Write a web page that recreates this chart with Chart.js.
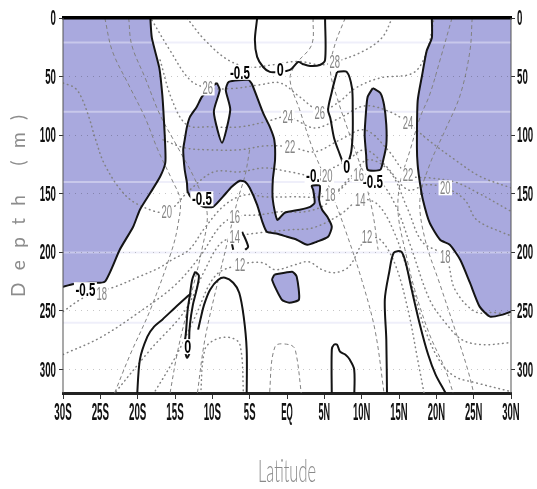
<!DOCTYPE html>
<html>
<head>
<meta charset="utf-8">
<title>Depth–latitude section</title>
<script src="https://cdn.jsdelivr.net/npm/chart.js@4.4.1/dist/chart.umd.min.js"></script>
<style>
  html, body { margin: 0; padding: 0; background: #fff; }
  canvas { display: block; }
</style>
</head>
<body>
<canvas id="section" width="537" height="489" style="width:537px;height:489px"></canvas>
<script>
// ---- axes -------------------------------------------------------------
const latTicks = [-30, -25, -20, -15, -10, -5, 0, 5, 10, 15, 20, 25, 30];
const latTickLabels = ['30S', '25S', '20S', '15S', '10S', '5S', 'EQ', '5N', '10N', '15N', '20N', '25N', '30N'];
const depthTicks = [0, 50, 100, 150, 200, 250, 300];
const bandDepths = [21, 80, 140, 200, 260];

// ---- anomaly below -0.5 (shaded), points are [latitude, depth] ---------
const shadeSouth = [[-18.3,-5],[-18.3,0],[-18.1,17],[-17.1,42.6],[-16.7,65.6],[-16.5,85.2],[-16.3,110.8],[-16.3,123.6],[-17.0,135.5],[-18.3,149.2],[-19.7,163.6],[-20.6,178.1],[-22.4,197.7],[-24.4,225],[-26.4,225.9],[-28.4,226.7],[-30,229.3],[-31,230],[-31,-5]];
const shadeNorth = [[19.4,-5],[19.4,0],[19.4,17],[18.7,28.1],[18.1,48.6],[17.5,70.7],[17.4,110.8],[17.5,125.3],[17.8,140.6],[18.2,155.1],[19.1,174.7],[20.5,189.2],[21.8,193.5],[23.2,206.3],[24.5,225.9],[25.8,246.3],[27.2,254.8],[28.9,253.1],[30,250.6],[31,250],[31,-5]];
const shadeWest = [[-9.4,55.4],[-9.0,61.4],[-9.8,80.1],[-8.7,106.5],[-7.6,78.4],[-8.2,61.4],[-7.8,54.5],[-5.2,52.8],[-4.7,56.3],[-3.2,81.0],[-2.3,92.9],[-1.7,104.0],[-1.6,121.0],[-1.9,138.1],[-1.9,155.1],[-1.3,172.2],[-0.3,166.2],[1.7,163.6],[3.1,161.1],[3.7,157.7],[3.5,146.6],[3.3,143.2],[4.4,143.2],[4.3,155.1],[4.7,163.6],[5.4,169.6],[6.0,178.1],[5.5,186.7],[4.0,190.9],[2.7,193.5],[1.3,189.2],[0,186.7],[-1.3,184.1],[-2.7,182.4],[-3.3,173.9],[-4.0,159.4],[-5.0,144.9],[-5.6,139.8],[-6.3,138.9],[-7.4,144.0],[-8.6,152.6],[-9.9,161.1],[-11.2,161.1],[-12.6,155.1],[-13.3,148.3],[-13.4,140.6],[-13.7,129.5],[-13.9,112.5],[-13.7,104.0],[-13.4,92.9],[-13.0,84.4],[-12.1,75.9],[-11.4,67.3],[-10.3,59.7]];
const shadeEq = [[-1.7,219.0],[0.7,216.5],[1.3,220.7],[1.6,240.3],[0.3,242.9],[-0.7,240.3],[-2.0,223.3]];
const shade10N = [[11.5,59.7],[12.5,64.0],[13.0,74.2],[13.3,91.2],[13.3,108.2],[12.9,121.0],[12.5,129.5],[10.8,129.5],[10.6,116.8],[10.4,99.7],[10.6,78.4],[10.8,67.3]];

// ---- zero contour ------------------------------------------------------
const zeroTop = [[-4.0,-5],[-4.0,0],[-4.3,18.8],[-4.0,33.2],[-3.2,41.8],[-2.3,46.0],[-1.2,46.0],[0.4,44.3],[1.5,37.5],[2.1,39.2],[3.1,40.9],[4.4,40.1],[5.1,35.8],[5.1,0],[5.1,-5]];
const zeroLoop7N = [[6.7,46.0],[8.0,46.0],[8.7,59.7],[8.8,78.4],[8.8,98.0],[8.6,114.2],[8.2,123.6],[8.0,131.3],[7.6,125.3],[7.1,116.8],[6.3,102.3],[5.8,85.2],[5.5,78.4],[6.0,63.1],[6.4,52.8]];
const zeroLoop13S = [[-12.3,216.5],[-11.8,219.9],[-12.1,231.8],[-12.6,244.6],[-13.0,261.7],[-13.1,274.4],[-13.0,284.7],[-13.4,289.8],[-13.7,281.3],[-13.5,265.9],[-13.3,248.9],[-13.0,236.1],[-12.7,223.3]];
const zeroSouthLeg = [[-20.1,325],[-19.7,291.5],[-18.7,271.9],[-17.8,263.4],[-16.7,257.4],[-15.0,247.2],[-13.8,240.3],[-13.1,236.1]];
const zeroArch = [[-5.4,325],[-5.4,283.0],[-5.8,254.8],[-6.4,234.4],[-7.2,225.9],[-8.3,221.6],[-9.2,223.3],[-10.3,231.8],[-11.1,244.6],[-11.6,257.4],[-11.9,265.9]];
const zero5N = [[6.0,325],[6.0,283.0],[6.3,278.7],[6.7,278.7],[7.1,284.7],[7.8,287.2],[8.4,291.5],[9.0,300.0],[9.0,325]];
const zero15N = [[13.4,325],[13.3,274.4],[13.1,240.3],[13.7,216.5],[14.3,200.3],[15.3,199.4],[15.9,208.8],[16.7,231.8],[17.8,261.7],[18.9,287.2],[19.9,304.3],[21.2,319.6],[21.6,325]];
const zeroBitA = [[-6.0,182.4],[-5.2,195.2],[-5.6,197.7]];
const zeroBitB = [[-7.4,191.8],[-7.2,197.7]];

// ---- isotherms (deg C) -------------------------------------------------
const t28 = [[-13.4,0],[-11.0,18.8],[-7.9,35.8],[-5.0,42],[-2.0,40],[1.5,37],[4.5,40],[6.4,37.5],[10.0,29.0],[12.7,17.0],[14.1,0]];
const t26 = [[-18.1,1.7],[-15.7,27.3],[-13.0,52.8],[-10.6,59.7],[-7.0,60],[-3.6,57],[-0.9,55.4],[1.7,67.3],[4.4,79],[6.8,72.4],[9.2,59.7],[12.5,51.1],[16.9,46.9],[18.7,29.0],[19.7,0]];
const t24 = [[-17.0,35.8],[-15.4,69.9],[-13.4,91.2],[-10.3,92.9],[-6.3,92.9],[-2.9,88.6],[0.1,84.4],[3.7,93.8],[7.1,85.2],[10.4,75.0],[13.8,80.1],[16.2,89.5],[18.9,104.0],[22.5,121.0],[25.8,135],[30,145]];
const t22 = [[-16.6,104.0],[-13.7,110.8],[-10.3,112.5],[-6.3,112.5],[-2.9,109.1],[0.4,109.9],[3.7,114.2],[7.1,104.0],[10.4,95.5],[13.5,112.5],[16.2,133.8],[19.1,136.4],[22.5,140],[25.8,150],[30,165]];
const t20 = [[-30,55.4],[-28.4,59.7],[-27.5,68.2],[-26.5,85.2],[-25.7,102.3],[-24.4,125.3],[-21.7,150.9],[-19.0,162.0],[-16.1,165.3],[-13.0,146.6],[-9.8,131.3],[-6.3,131.3],[-2.9,127.9],[0.4,131.3],[3.5,133.8],[7.8,122.7],[10.4,112.5],[13.1,125.3],[16.2,146.6],[18.7,142.3],[21.2,144.9],[23.8,155.1],[25.4,172.2],[28.9,183.2],[30,185.8]];
const t18 = [[-30,250.6],[-27.7,240.3],[-25.7,234.4],[-23.0,229.3],[-19.8,220.7],[-17.1,213.1],[-15.4,206.3],[-13.1,197.7],[-11.0,179.0],[-8.3,159.4],[-5.6,150.9],[-2.9,152.6],[0.4,152.6],[5.8,150.9],[8.4,136.4],[10.8,121.0],[13.8,131.3],[16.2,163.6],[18.1,190.9],[21.2,203.7],[22.5,231.8],[25.2,250.6],[27.9,251.4],[30,254.0]];
const t16 = [[-30,287.2],[-25.0,272.7],[-19.7,250.6],[-15.0,228],[-11.6,203],[-9.0,178],[-7.0,169.6],[-3.6,167.9],[-0.9,165.3],[2.4,165.3],[5.1,159.4],[7.1,146.6],[9.6,133.8],[12.2,138.1],[14.5,159.4],[16.5,193.5],[19.1,240.3],[21.2,259.9],[23.4,274.4],[26.1,278.7],[30,277.0]];
const t14 = [[-23.7,325],[-18.3,283.0],[-13.7,250],[-11.0,215],[-9.0,193],[-7.0,186.7],[-3.6,183.2],[0.4,180.7],[3.5,179.0],[7.1,167.9],[9.8,155.1],[12.2,159.4],[14.5,185.0],[16.5,223.3],[18.5,265.9],[20.5,293.2],[22.5,306.0],[25.2,311.1],[30,318.8]];
const t12 = [[-18.3,325],[-15.0,290],[-12.3,255],[-9.6,220],[-6.3,210.5],[-3.3,208.8],[-1.6,214.8],[1.1,210.5],[2.9,208.0],[4.7,214.8],[6.4,217.3],[8.3,212.2],[9.8,195.2],[10.7,187.5],[12.5,189.2],[14.5,210.5],[16.2,248.9],[17.5,291.5],[18.5,325]];
const tDeep = [[-11.6,325],[-11.0,283.0],[-9.6,274.4],[-7.6,272.7],[-6.3,278.7],[-5.8,325]];

// ---- second field (dashed) --------------------------------------------
const dashSouthA = [[-24.4,0],[-23.4,28.1],[-21.2,57.1],[-19.0,85.2],[-17.3,112.5],[-15.4,138.1],[-14.3,155.1],[-14.6,176.4],[-15.4,197.7],[-18.3,248.9],[-21.0,287.2],[-23.4,325]];
const dashSouthB = [[-21.2,0],[-20.8,23.0],[-19.0,51.1],[-17.0,82.7],[-14.6,110.8],[-12.3,138.1],[-10.7,166.2],[-11.4,197.7],[-13.0,240.3],[-14.6,283.0],[-15.8,325]];
const dashSouthC = [[-5.0,112.5],[-5.6,133.8],[-6.6,155.1],[-7.9,189.2],[-9.2,223.3],[-11.0,274.4],[-12.1,325]];
const dashNorthA = [[22.1,0],[20.5,35.8],[19.1,65.6],[17.8,85.2],[16.5,112.5],[15.1,142.3],[14.9,167.9],[15.8,197.7],[17.1,231.8],[19.1,270.2],[21.2,300.0],[22.5,325]];
const dashNorthB = [[24.8,0],[24.5,28.1],[23.2,65.6],[21.2,95.5],[19.1,125.3],[17.8,155.1],[18.5,189.2],[20.5,227.6],[22.5,265.9],[24.2,300.0],[25.2,325]];
const dashCenterA = [[3.5,0],[3.3,23.0],[1.1,40.1],[0.4,52.8],[1.7,78.4],[3.5,112.5],[5.8,146.6],[7.8,180.7],[10.0,223.3],[11.8,266.8],[13.1,325]];
const dashCenterB = [[7.8,0],[6.4,23.0],[5.8,44.3],[6.8,69.9],[8.4,99.7],[10.0,129.5],[11.4,163.6],[12.2,197.7]];
const dashEqDome = [[-2.4,325],[-1.6,280.4],[0.3,278.7],[1.1,283.0],[2.0,325]];

// ---- contour labels: [text, latitude, depth] ---------------------------
const anomalyLabels = [['-0.5',-6.3,46.4],['-0.5',-11.4,154.3],['-0.5',11.5,140],['-0.5',-27.0,231.8],['-0.5',3.9,134.7],['0',-0.9,44.3],['0',8.0,127.0],['0',-13.3,280.4]];
const isothermLabels = [['28',6.4,37.5],['26',-10.6,59.7],['26',4.4,81.0],['24',0.1,84.4],['22',0.4,109.9],['24',16.2,89.5],['22',16.2,133.8],['20',21.2,144.9],['18',5.8,150.9],['16',9.6,133.8],['14',9.8,155.1],['12',10.7,186.7],['16',-7.0,169.6],['14',-7.0,186.7],['12',-6.3,210.5],['20',-16.1,165.3],['18',-24.8,235.2],['18',21.2,203.7],['20',5.4,134.7]];

// ---- styling ------------------------------------------------------------
const SHADE = '#a9a9de';
const INK = '#141414';
const GREY = '#828282';
const NARROW = "'Liberation Sans Narrow','Liberation Sans','DejaVu Sans Condensed',sans-serif";

const asPoints = a => a.map(p => ({ x: p[0], y: p[1] }));
const asRing = a => asPoints(a.concat([a[0]]));

const shaded = [shadeSouth, shadeNorth, shadeWest, shadeEq, shade10N];
const isotherms = [t28, t26, t24, t22, t20, t18, t16, t14, t12, tDeep];
const dashedLines = [dashSouthA, dashSouthB, dashSouthC, dashNorthA, dashNorthB, dashCenterA, dashCenterB, dashEqDome];
const zeroOpen = [zeroTop, zeroSouthLeg, zeroArch, zero5N, zero15N, zeroBitA, zeroBitB];
const zeroRings = [zeroLoop7N, zeroLoop13S];

const base = { showLine: true, pointRadius: 0, pointHoverRadius: 0 };
const datasets = [];
shaded.forEach(a => datasets.push({ ...base, data: asRing(a), fill: 'shape', backgroundColor: SHADE, borderWidth: 0, tension: 0.2, order: 10 }));
isotherms.forEach(a => datasets.push({ ...base, data: asPoints(a), fill: false, borderColor: GREY, borderWidth: 1.5, borderDash: [0.6, 4], borderCapStyle: 'round', tension: 0.35, order: 5 }));
dashedLines.forEach(a => datasets.push({ ...base, data: asPoints(a), fill: false, borderColor: GREY, borderWidth: 1, borderDash: [4, 3], tension: 0.35, order: 5 }));
shaded.forEach(a => datasets.push({ ...base, data: asRing(a), fill: false, borderColor: INK, borderWidth: 2, borderJoinStyle: 'round', tension: 0.2, order: 2 }));
zeroOpen.forEach(a => datasets.push({ ...base, data: asPoints(a), fill: false, borderColor: INK, borderWidth: 2, borderJoinStyle: 'round', tension: 0.3, order: 1 }));
zeroRings.forEach(a => datasets.push({ ...base, data: asRing(a), fill: false, borderColor: INK, borderWidth: 2, borderJoinStyle: 'round', tension: 0.3, order: 1 }));

// text squeezed horizontally to a given width
function drawSqueezed(ctx, text, cx, cy, font, width, color, withBox, boxH, baseline) {
  ctx.save();
  ctx.font = font;
  const m = ctx.measureText(text).width;
  if (withBox) {
    ctx.fillStyle = '#fff';
    ctx.fillRect(cx - width / 2 - 1.5, cy - boxH / 2, width + 3, boxH);
  }
  ctx.translate(cx, cy);
  ctx.scale(width / m, 1);
  ctx.fillStyle = color;
  ctx.textAlign = 'center';
  ctx.textBaseline = baseline || 'middle';
  ctx.fillText(text, 0, baseline ? 0 : 1);
  ctx.restore();
}

// rotated, letter-spaced axis title
function drawSpacedVertical(ctx, text, cx, cy, font, total, color) {
  ctx.save();
  ctx.font = font;
  ctx.fillStyle = color;
  const chars = [...text];
  const ws = chars.map(c => ctx.measureText(c).width);
  const sum = ws.reduce((s, w) => s + w, 0);
  const gap = (total - sum) / (chars.length - 1);
  ctx.translate(cx, cy);
  ctx.rotate(-Math.PI / 2);
  ctx.textAlign = 'left';
  ctx.textBaseline = 'alphabetic';
  let pos = -total / 2;
  chars.forEach((c, i) => { ctx.fillText(c, pos, 0); pos += ws[i] + gap; });
  ctx.restore();
}

const decor = {
  id: 'decor',
  afterDatasetDraw(chart, args) {
    if (args.index !== 0) return;
    const { ctx, chartArea: a, scales: { y } } = chart;
    ctx.save();
    ctx.strokeStyle = 'rgba(225,225,246,0.55)';
    ctx.lineWidth = 2;
    bandDepths.forEach(d => {
      const py = y.getPixelForValue(d);
      ctx.beginPath(); ctx.moveTo(a.left, py); ctx.lineTo(a.right, py); ctx.stroke();
    });
    ctx.restore();
  },
  afterDraw(chart) {
    const { ctx, chartArea: a, scales: { x, y } } = chart;
    // frame: heavy top edge, thin side edges
    ctx.save();
    ctx.fillStyle = '#000';
    ctx.fillRect(a.left - 1, a.top - 2, a.right - a.left + 2, 3.5);
    ctx.fillStyle = '#555';
    ctx.fillRect(a.left - 0.5, a.top, 1, a.bottom - a.top);
    ctx.fillRect(a.right - 0.5, a.top, 1, a.bottom - a.top);
    ctx.restore();

    anomalyLabels.forEach(([t, lat, dep]) =>
      drawSqueezed(ctx, t, x.getPixelForValue(lat), y.getPixelForValue(dep), 'bold 19px ' + NARROW, t === '0' ? 7 : 20, '#000', true, 15));
    isothermLabels.forEach(([t, lat, dep]) =>
      drawSqueezed(ctx, t, x.getPixelForValue(lat), y.getPixelForValue(dep), '18px ' + NARROW, 10.5, '#858585', true, 15));

    x.ticks.forEach((tk, i) => {
      const w = 5.8 * tk.label.length;
      drawSqueezed(ctx, tk.label, x.getPixelForTick(i), a.bottom + 20, 'bold 23px ' + NARROW, w, '#111', false);
    });
    y.ticks.forEach((tk, i) => {
      const py = y.getPixelForTick(i);
      const w = 5.4 * tk.label.length;
      drawSqueezed(ctx, tk.label, a.left - 7 - w / 2, py, 'bold 22px ' + NARROW, w, '#111', false);
      drawSqueezed(ctx, tk.label, a.right + 6 + w / 2, py, 'bold 22px ' + NARROW, w, '#111', false);
    });

    drawSpacedVertical(ctx, 'Depth (m)', 25, 206, '19px Lato, sans-serif', 182, '#8c8c8c');
    drawSqueezed(ctx, 'Latitude', (a.left + a.right) / 2, 482, '300 31px Lato, sans-serif', 58, '#8a8a8a', false, 0, 'alphabetic');
  }
};

const depthAxis = (position, width, onArea) => ({
  type: 'linear', position, reverse: true, min: 0, max: 320,
  afterBuildTicks: s => { s.ticks = depthTicks.map(v => ({ value: v })); },
  afterFit: s => { s.width = width; },
  ticks: { color: 'rgba(0,0,0,0)', callback: v => String(v) },
  grid: { drawOnChartArea: onArea, color: 'rgba(0,0,0,0.22)', lineWidth: 1, tickLength: 4, tickColor: '#333', tickBorderDash: [], z: 1 },
  border: { display: false, dash: [1, 5] }
});

new Chart(document.getElementById('section'), {
  type: 'scatter',
  data: { datasets },
  options: {
    responsive: false,
    devicePixelRatio: 1,
    animation: false,
    events: [],
    layout: { padding: { top: 18, left: 0, right: 0, bottom: 0 } },
    plugins: { legend: { display: false }, tooltip: { enabled: false } },
    scales: {
      x: {
        type: 'linear', position: 'bottom', min: -30, max: 30,
        afterBuildTicks: s => { s.ticks = latTicks.map(v => ({ value: v })); },
        afterFit: s => { s.height = 96; },
        ticks: { color: 'rgba(0,0,0,0)', autoSkip: false, maxRotation: 0, callback: (v, i) => latTickLabels[i] },
        grid: { drawOnChartArea: false, tickLength: 6, color: '#333', lineWidth: 1 },
        border: { color: '#222', width: 3 }
      },
      y: depthAxis('left', 63, true),
      y2: depthAxis('right', 26, false)
    }
  },
  plugins: [decor]
});
</script>
</body>
</html>
